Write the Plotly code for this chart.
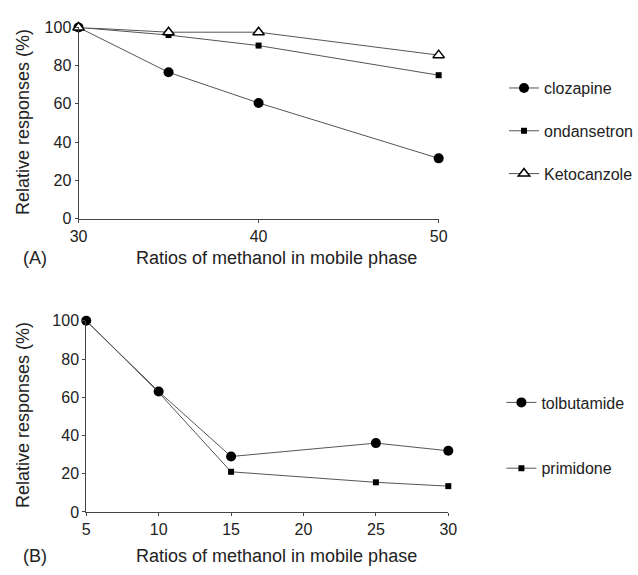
import plotly.graph_objects as go

# Panel A data
xa = [30, 35, 40, 50]
clozapine = [100, 76.5, 60.5, 31.5]
ondansetron = [100, 96, 90.5, 75]
ketocanzole = [100, 97.5, 97.5, 85.5]

# Panel B data
xb = [5, 10, 15, 25, 30]
tolbutamide = [100, 63, 29, 36, 32]
primidone = [100, 62.5, 21, 15.5, 13.5]

xticks_a = [30, 40, 50]
xticks_b = [5, 10, 15, 20, 25, 30]
yticks = [0, 20, 40, 60, 80, 100]

W, H = 638, 575
FONT = "Liberation Sans, Arial, sans-serif"
TXT = "#222222"
LINE = "#555555"

fig = go.Figure()

def add(x, y, name, symbol, size, xaxis, yaxis, legend, group, open_=False):
    fig.add_trace(go.Scatter(
        x=x, y=y, name=name, mode="lines+markers",
        line=dict(color=LINE, width=1),
        marker=dict(symbol=symbol, size=size,
                    color="white" if open_ else "black",
                    line=dict(color="black", width=1.5 if open_ else 0)),
        xaxis=xaxis, yaxis=yaxis, legend=legend, legendgroup=group,
        cliponaxis=False,
    ))

add(xa, clozapine, "clozapine", "circle", 10, "x", "y", "legend", "a1")
add(xa, ondansetron, "ondansetron", "square", 6, "x", "y", "legend", "a2")
add(xa, ketocanzole, "Ketocanzole", "triangle-up", 10, "x", "y", "legend", "a3", open_=True)
add(xb, tolbutamide, "tolbutamide", "circle", 10, "x2", "y2", "legend2", "b1")
add(xb, primidone, "primidone", "square", 6, "x2", "y2", "legend2", "b2")

axis_common = dict(
    showgrid=False, zeroline=False, showline=True, linecolor="#444444", linewidth=1,
    ticks="outside", ticklen=3, tickcolor="#444444", tickwidth=1,
    tickfont=dict(family=FONT, size=16, color=TXT),
)

fig.update_layout(
    width=W, height=H,
    margin=dict(l=0, r=0, t=0, b=0),
    paper_bgcolor="white", plot_bgcolor="white",
    font=dict(family=FONT, color=TXT),
    xaxis=dict(domain=[72 / W, 445 / W], range=[30, 50], tickvals=xticks_a,
               anchor="y", **axis_common),
    yaxis=dict(domain=[(H - 217) / H, (H - 20) / H], range=[0, 100], tickvals=yticks,
               anchor="x", **axis_common),
    xaxis2=dict(domain=[80 / W, 455 / W], range=[5, 30], tickvals=xticks_b,
                anchor="y2", **axis_common),
    yaxis2=dict(domain=[(H - 519.3) / H, (H - 322.3) / H], range=[0, 100], tickvals=yticks,
                anchor="x2", **axis_common),
    legend=dict(x=513 / W, y=(H - 65) / H, xanchor="left", yanchor="top",
                font=dict(family=FONT, size=16, color=TXT), tracegroupgap=19,
                bgcolor="rgba(0,0,0,0)", itemwidth=30),
    legend2=dict(x=510 / W, y=(H - 389) / H, xanchor="left", yanchor="top",
                 font=dict(family=FONT, size=16, color=TXT), tracegroupgap=42,
                 bgcolor="rgba(0,0,0,0)", itemwidth=30),
    showlegend=True,
)

ann = [
    dict(text="Relative responses (%)", x=14 / W, y=(H - 118) / H, textangle=-90, xanchor="center"),
    dict(text="Ratios of methanol in mobile phase", x=277 / W, y=(H - 258) / H, xanchor="center"),
    dict(text="(A)", x=12 / W, y=(H - 258) / H, xanchor="left"),
    dict(text="Relative responses (%)", x=14 / W, y=(H - 420) / H, textangle=-90, xanchor="center"),
    dict(text="Ratios of methanol in mobile phase", x=277 / W, y=(H - 565) / H, xanchor="center"),
    dict(text="(B)", x=12 / W, y=(H - 565) / H, xanchor="left"),
]
for a in ann:
    fig.add_annotation(xref="paper", yref="paper", showarrow=False,
                       yanchor="middle",
                       font=dict(family=FONT, size=18, color=TXT), **a)

fig.write_html("out.html")
